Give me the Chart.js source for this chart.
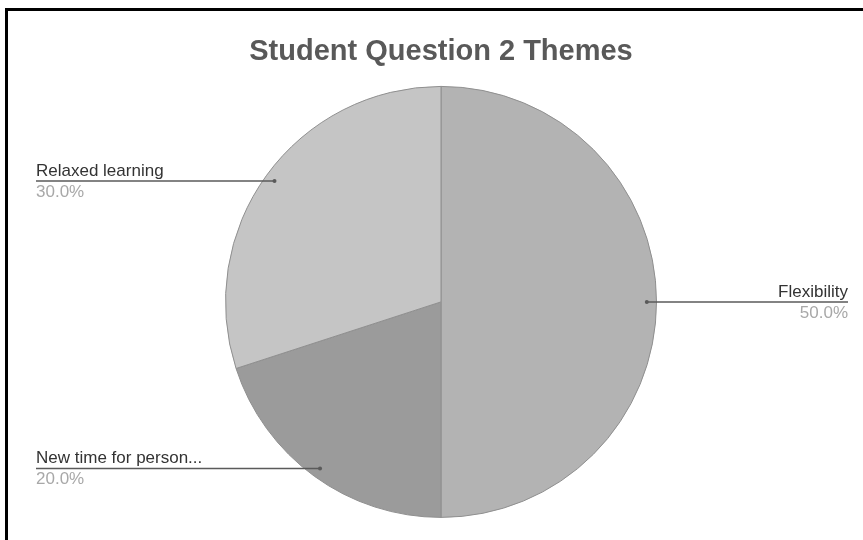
<!DOCTYPE html>
<html>
<head>
<meta charset="utf-8">
<script src="https://cdn.jsdelivr.net/npm/chart.js@4"></script>
<style>
    html, body { margin: 0; padding: 0; background: #ffffff; }
    #wrap { position: relative; width: 863px; height: 540px; overflow: hidden; }
    #frame {
        position: absolute; left: 5px; top: 8px; right: 0; bottom: 0;
        border-top: 3px solid #000; border-left: 3px solid #000;
        pointer-events: none;
    }
    canvas { position: absolute; left: 0; top: 0; }
</style>
</head>
<body>
<div id="wrap">
    <canvas id="pieChart" width="863" height="540"></canvas>
    <div id="frame"></div>
</div>
<script>
const categories = ['Flexibility', 'New time for person...', 'Relaxed learning'];
const shares = [50, 20, 30];
const sliceColors = ['#b3b3b3', '#9b9b9b', '#c5c5c5'];
const labelSides = ['right', 'left', 'left'];

// Leader lines + labels, anchored on each arc
const leaderLabels = {
    id: 'leaderLabels',
    afterDatasetsDraw(chart) {
        const ctx = chart.ctx;
        const meta = chart.getDatasetMeta(0);
        const total = shares.reduce((a, b) => a + b, 0);
        meta.data.forEach((arc, i) => {
            const mid = (arc.startAngle + arc.endAngle) / 2;
            const r = arc.outerRadius * 0.955;
            const px = arc.x + Math.cos(mid) * r;
            const py = arc.y + Math.sin(mid) * r;
            const right = labelSides[i] === 'right';
            const endX = right ? 848 : 36;

            ctx.save();
            ctx.strokeStyle = '#5a5a5a';
            ctx.lineWidth = 1.5;
            ctx.beginPath();
            ctx.moveTo(px, py);
            ctx.lineTo(endX, py);
            ctx.stroke();
            ctx.fillStyle = '#5a5a5a';
            ctx.beginPath();
            ctx.arc(px, py, 2, 0, Math.PI * 2);
            ctx.fill();

            ctx.textAlign = right ? 'right' : 'left';
            ctx.font = '17px "Liberation Sans", Arial, sans-serif';
            ctx.textBaseline = 'alphabetic';
            ctx.fillStyle = '#333333';
            ctx.fillText(categories[i], endX, py - 5);
            ctx.fillStyle = '#a8a8a8';
            ctx.textBaseline = 'middle';
            const pct = (shares[i] / total * 100).toFixed(1) + '%';
            ctx.fillText(pct, endX, py + 11);
            ctx.restore();
        });
    }
};

const ctx = document.getElementById('pieChart').getContext('2d');
new Chart(ctx, {
    type: 'pie',
    data: {
        labels: categories,
        datasets: [{
            data: shares,
            backgroundColor: sliceColors,
            borderColor: '#8f8f8f',
            borderWidth: 1
        }]
    },
    options: {
        responsive: false,
        animation: false,
        layout: {
            padding: { top: 0, bottom: 22, left: 225, right: 206 }
        },
        plugins: {
            legend: { display: false },
            tooltip: { enabled: false },
            title: {
                display: true,
                text: 'Student Question 2 Themes',
                color: '#595959',
                font: { family: '"Liberation Sans", Arial, sans-serif', size: 29, weight: 'bold', lineHeight: 1.2 },
                padding: { top: 35, bottom: 16 }
            }
        }
    },
    plugins: [leaderLabels]
});
</script>
</body>
</html>
